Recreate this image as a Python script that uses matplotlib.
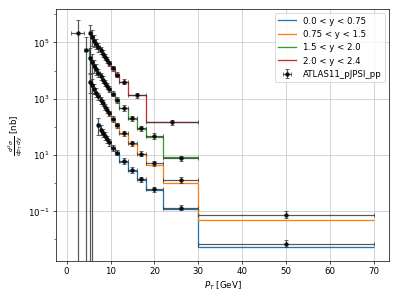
import numpy as np
import matplotlib
matplotlib.use("Agg")
import matplotlib.pyplot as plt
from matplotlib.ticker import FixedLocator, LogLocator, NullFormatter

labels = ["0.0 < y < 0.75", "0.75 < y < 1.5", "1.5 < y < 2.0", "2.0 < y < 2.4"]
data_label = "ATLAS11_pJPSI_pp"
nan = np.nan

# 0.0 < y < 0.75
blue_edges = [7, 7.5, 8, 8.5, 9, 9.5, 10, 11, 12, 14, 16, 18, 22, 30, 70]
blue_data = [112, 79, 60, 47, 36, 28, 18, 12, 6.0, 2.9, 1.35, 0.60, 0.135, 0.0071]
blue_theory = [105, 76, 57, 45, 34, 27, 17.3, 11.4, 5.7, 2.75, 1.28, 0.55, 0.117, 0.0055]
blue_err_up = [0.9, 0.5, 0.4, 0.35, 0.3, 0.3, 0.25, 0.25, 0.25, 0.25, 0.25, 0.25, 0.25, 0.35]
blue_err_dn = [0.55, 0.35, 0.3, 0.25, 0.25, 0.25, 0.2, 0.2, 0.2, 0.2, 0.2, 0.2, 0.2, 0.25]

# 0.75 < y < 1.5
orange_edges = [5, 5.5, 6, 6.5, 7, 7.5, 8, 8.5, 9, 9.5, 10, 11, 12, 14, 16, 18, 22, 30, 70]
orange_data = [4000, 3000, 2300, 1660, 1200, 890, 680, 510, 390, 300, 190, 112, 59, 26, 11.2, 5.0, 1.29, 0.074]
orange_theory = [3800, 2850, 2200, 1600, 1150, 850, 650, 490, 375, 290, 180, 106, 55, 24.5, 10.5, 4.5, 1.02, 0.048]
orange_err_up = [0.9, 0.7, 0.5, 0.4, 0.35, 0.3, 0.3, 0.25, 0.25, 0.25, 0.25, 0.25, 0.25, 0.25, 0.25, 0.25, 0.25, 0.35]
orange_err_dn = [0.6, 0.45, 0.35, 0.3, 0.25, 0.25, 0.2, 0.2, 0.2, 0.2, 0.2, 0.2, 0.2, 0.2, 0.2, 0.2, 0.2, 0.25]

# 1.5 < y < 2.0
green_edges = [4, 5, 5.5, 6, 6.5, 7, 7.5, 8, 8.5, 9, 9.5, 10, 11, 12, 14, 16, 18, 22, 30]
green_data = [52000, 28000, 21000, 15000, 11000, 8300, 6300, 4800, 3600, 2800, 2200, 1500, 890, 470, 200, 89, 47, 7.6]
green_theory = [52000, 26500, 20000, 14300, 10500, 7900, 6000, 4600, 3450, 2700, 2100, 1430, 850, 450, 190, 85, 45, 8.3]
green_err_up = [2.0, 1.2, 0.8, 0.6, 0.5, 0.4, 0.35, 0.3, 0.3, 0.25, 0.25, 0.25, 0.25, 0.25, 0.25, 0.25, 0.25, 0.25]
green_err_dn = [1.0, 0.7, 1.0, 0.45, 0.35, 0.3, 0.25, 0.25, 0.2, 0.2, 0.2, 0.2, 0.2, 0.2, 0.2, 0.2, 0.2, 0.2]

# 2.0 < y < 2.4
red_edges = [1, 4, 5, 5.5, 6, 6.5, 7, 7.5, 8, 8.5, 9, 9.5, 10, 11, 12, 14, 18, 30]
red_data = [210000, nan, 210000, 150000, 115000, 89000, 68000, 52000, 40000, 30000, 23000, 18000, 12000, 7200, 4000, 1300, 145]
red_theory = [nan, nan, 215000, 152000, 113000, 87000, 66000, 50000, 39000, 29000, 22500, 17500, 11600, 7000, 3900, 1300, 145]
red_err_up = [1.95, nan, 1.0, 0.8, 0.6, 0.5, 0.4, 0.35, 0.3, 0.3, 0.3, 0.25, 0.25, 0.25, 0.25, 0.25, 0.25]
red_err_dn = [1.0, nan, 1.0, 0.5, 0.4, 0.35, 0.3, 0.25, 0.25, 0.2, 0.2, 0.2, 0.2, 0.2, 0.2, 0.2, 0.2]

series = [
    (blue_edges, blue_data, blue_theory, blue_err_up, blue_err_dn, "#1f77b4"),
    (orange_edges, orange_data, orange_theory, orange_err_up, orange_err_dn, "#ff7f0e"),
    (green_edges, green_data, green_theory, green_err_up, green_err_dn, "#2ca02c"),
    (red_edges, red_data, red_theory, red_err_up, red_err_dn, "#d62728"),
]

fig = plt.figure(figsize=(6.4, 4.8), dpi=62.35)
ax = fig.add_axes([0.140, 0.127, 0.835, 0.843])

for i, (edges, data, theory, eu, ed, col) in enumerate(series):
    edges = np.asarray(edges, float)
    theory = np.asarray(theory, float)
    s = np.where(np.isfinite(theory))[0][0]
    ax.stairs(theory[s:], edges[s:], baseline=None, color=col, lw=1.5,
              label=labels[i], zorder=2)

for i, (edges, data, theory, eu, ed, col) in enumerate(series):
    edges = np.asarray(edges, float)
    data = np.asarray(data, float)
    x = 0.5 * (edges[:-1] + edges[1:])
    xe = 0.5 * (edges[1:] - edges[:-1])
    yerr = np.vstack([data * np.asarray(ed, float), data * np.asarray(eu, float)])
    m = np.isfinite(data)
    ax.errorbar(x[m], data[m], xerr=xe[m], yerr=yerr[:, m], fmt='o', ms=4,
                color='black', ecolor='#3a3a3a', elinewidth=1.4, capsize=2,
                alpha=0.85, zorder=3, label=data_label if i == 0 else None)

ax.set_yscale('log')
ax.set_xlim(-2.45, 73.45)
ax.set_ylim(10 ** -2.77, 10 ** 6.2)
ax.yaxis.set_major_locator(FixedLocator([1e-1, 1e1, 1e3, 1e5]))
ax.yaxis.set_minor_locator(FixedLocator([1e-2, 1e0, 1e2, 1e4, 1e6]))
ax.yaxis.set_minor_formatter(NullFormatter())
ax.set_xticks([0, 10, 20, 30, 40, 50, 60, 70])
ax.grid(True, which='major', color='#cfcfcf', lw=1.0)
ax.set_axisbelow(True)
ax.set_xlabel(r"$P_T$ [GeV]")
ax.set_ylabel(r"$\frac{d^2\sigma}{dp_T\,dy}$ [nb]")
ax.legend(loc='upper right')

fig.savefig("out.png", dpi=62.35)
